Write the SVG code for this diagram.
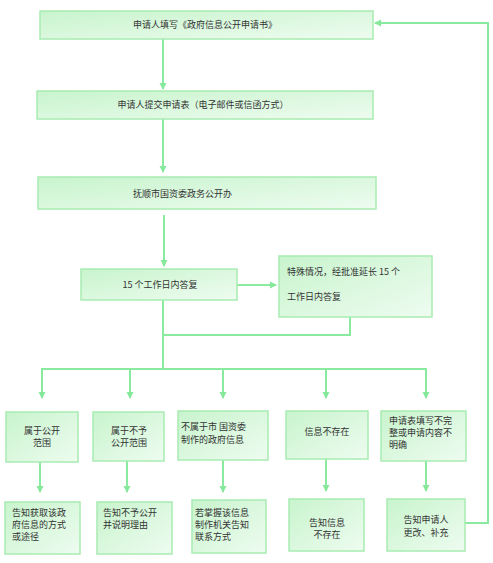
<svg xmlns="http://www.w3.org/2000/svg" width="493" height="563" viewBox="0 0 493 563">
<defs>
<linearGradient id="g" x1="0" y1="0" x2="1" y2="1">
<stop offset="0" stop-color="#c8f4cd"/>
<stop offset="1" stop-color="#eefcf0"/>
</linearGradient>
<marker id="ah" markerWidth="8" markerHeight="8" refX="6" refY="4" orient="auto" markerUnits="userSpaceOnUse">
<path d="M0,0.5 L7,4 L0,7.5 Z" fill="#86e89a"/>
</marker>
<style>
.box{fill:url(#g);stroke:#a8ecb2;stroke-width:1.5}
.t{font-family:"Noto Sans CJK SC","Liberation Sans",sans-serif;font-size:9px;fill:#333}
.c{text-anchor:middle}
.ln{fill:none;stroke:#8aeaa0;stroke-width:2}
.ar{marker-end:url(#ah)}
</style>
</defs>
<rect width="493" height="563" fill="#fff"/>
<g id="connectors">
<line class="ln ar" x1="163" y1="39" x2="163" y2="89"/>
<line class="ln ar" x1="163" y1="119" x2="163" y2="172"/>
<line class="ln ar" x1="164" y1="215" x2="164" y2="266"/>
<line class="ln ar" x1="237" y1="285" x2="276" y2="285"/>
<polyline class="ln" points="350,317 350,335 163,335"/>
<line class="ln" x1="163" y1="300" x2="163" y2="369"/>
<polyline class="ln" points="42,398 42,369 426,369 426,398"/>
<line class="ln ar" x1="42" y1="369" x2="42" y2="398"/>
<line class="ln ar" x1="130" y1="369" x2="130" y2="398"/>
<line class="ln ar" x1="223" y1="369" x2="223" y2="398"/>
<line class="ln ar" x1="326" y1="369" x2="326" y2="398"/>
<line class="ln ar" x1="426" y1="369" x2="426" y2="398"/>
<line class="ln ar" x1="40" y1="462" x2="40" y2="492"/>
<line class="ln ar" x1="127" y1="461" x2="127" y2="492"/>
<line class="ln ar" x1="223" y1="460" x2="223" y2="492"/>
<line class="ln ar" x1="326" y1="459" x2="326" y2="491"/>
<line class="ln ar" x1="426" y1="461" x2="426" y2="491"/>
<polyline class="ln ar" points="465,523 488,523 488,23 375,23"/>
</g>
<g id="n1"><rect class="box" x="40" y="11" width="333" height="28"/><text class="t c" x="205" y="28">申请人填写《政府信息公开申请书》</text></g>
<g id="n2"><rect class="box" x="37" y="91" width="336" height="28"/><text class="t c" x="203" y="108">申请人提交申请表（电子邮件或信函方式）</text></g>
<g id="n3"><rect class="box" x="38" y="177" width="338" height="32"/><text class="t" x="133" y="197">抚顺市国资委政务公开办</text></g>
<g id="n4"><rect class="box" x="81" y="269" width="156" height="31"/><text class="t c" x="160" y="288">15 个工作日内答复</text></g>
<g id="n5"><rect class="box" x="279" y="256" width="153" height="61"/><text class="t" x="287" y="275">特殊情况，经批准延长 15 个</text><text class="t" x="287" y="300">工作日内答复</text></g>
<g id="a1"><rect class="box" x="6" y="412" width="72" height="50"/><text class="t c" x="42" y="434">属于公开</text><text class="t c" x="42" y="446">范围</text></g>
<g id="a2"><rect class="box" x="93" y="412" width="71" height="49"/><text class="t c" x="129" y="434">属于不予</text><text class="t c" x="129" y="446">公开范围</text></g>
<g id="a3"><rect class="box" x="178" y="411" width="90" height="49"/><text class="t" x="181" y="430">不属于市 国资委</text><text class="t" x="181" y="443">制作的政府信息</text></g>
<g id="a4"><rect class="box" x="286" y="411" width="82" height="48"/><text class="t c" x="327" y="435">信息不存在</text></g>
<g id="a5"><rect class="box" x="381" y="411" width="85" height="50"/><text class="t" x="389" y="424">申请表填写不完</text><text class="t" x="389" y="436">整或申请内容不</text><text class="t" x="389" y="448">明确</text></g>
<g id="b1"><rect class="box" x="5" y="502" width="75" height="52"/><text class="t" x="12" y="516">告知获取该政</text><text class="t" x="12" y="528">府信息的方式</text><text class="t" x="12" y="540">或途径</text></g>
<g id="b2"><rect class="box" x="97" y="502" width="75" height="52"/><text class="t" x="103" y="516">告知不予公开</text><text class="t" x="103" y="528">并说明理由</text></g>
<g id="b3"><rect class="box" x="192" y="500" width="74" height="53"/><text class="t" x="195" y="516">若掌握该信息</text><text class="t" x="195" y="528">制作机关告知</text><text class="t" x="195" y="540">联系方式</text></g>
<g id="b4"><rect class="box" x="289" y="499" width="75" height="52"/><text class="t c" x="327" y="526">告知信息</text><text class="t c" x="327" y="538">不存在</text></g>
<g id="b5"><rect class="box" x="387" y="499" width="78" height="52"/><text class="t c" x="426" y="523">告知申请人</text><text class="t c" x="426" y="536">更改、补充</text></g>
</svg>
